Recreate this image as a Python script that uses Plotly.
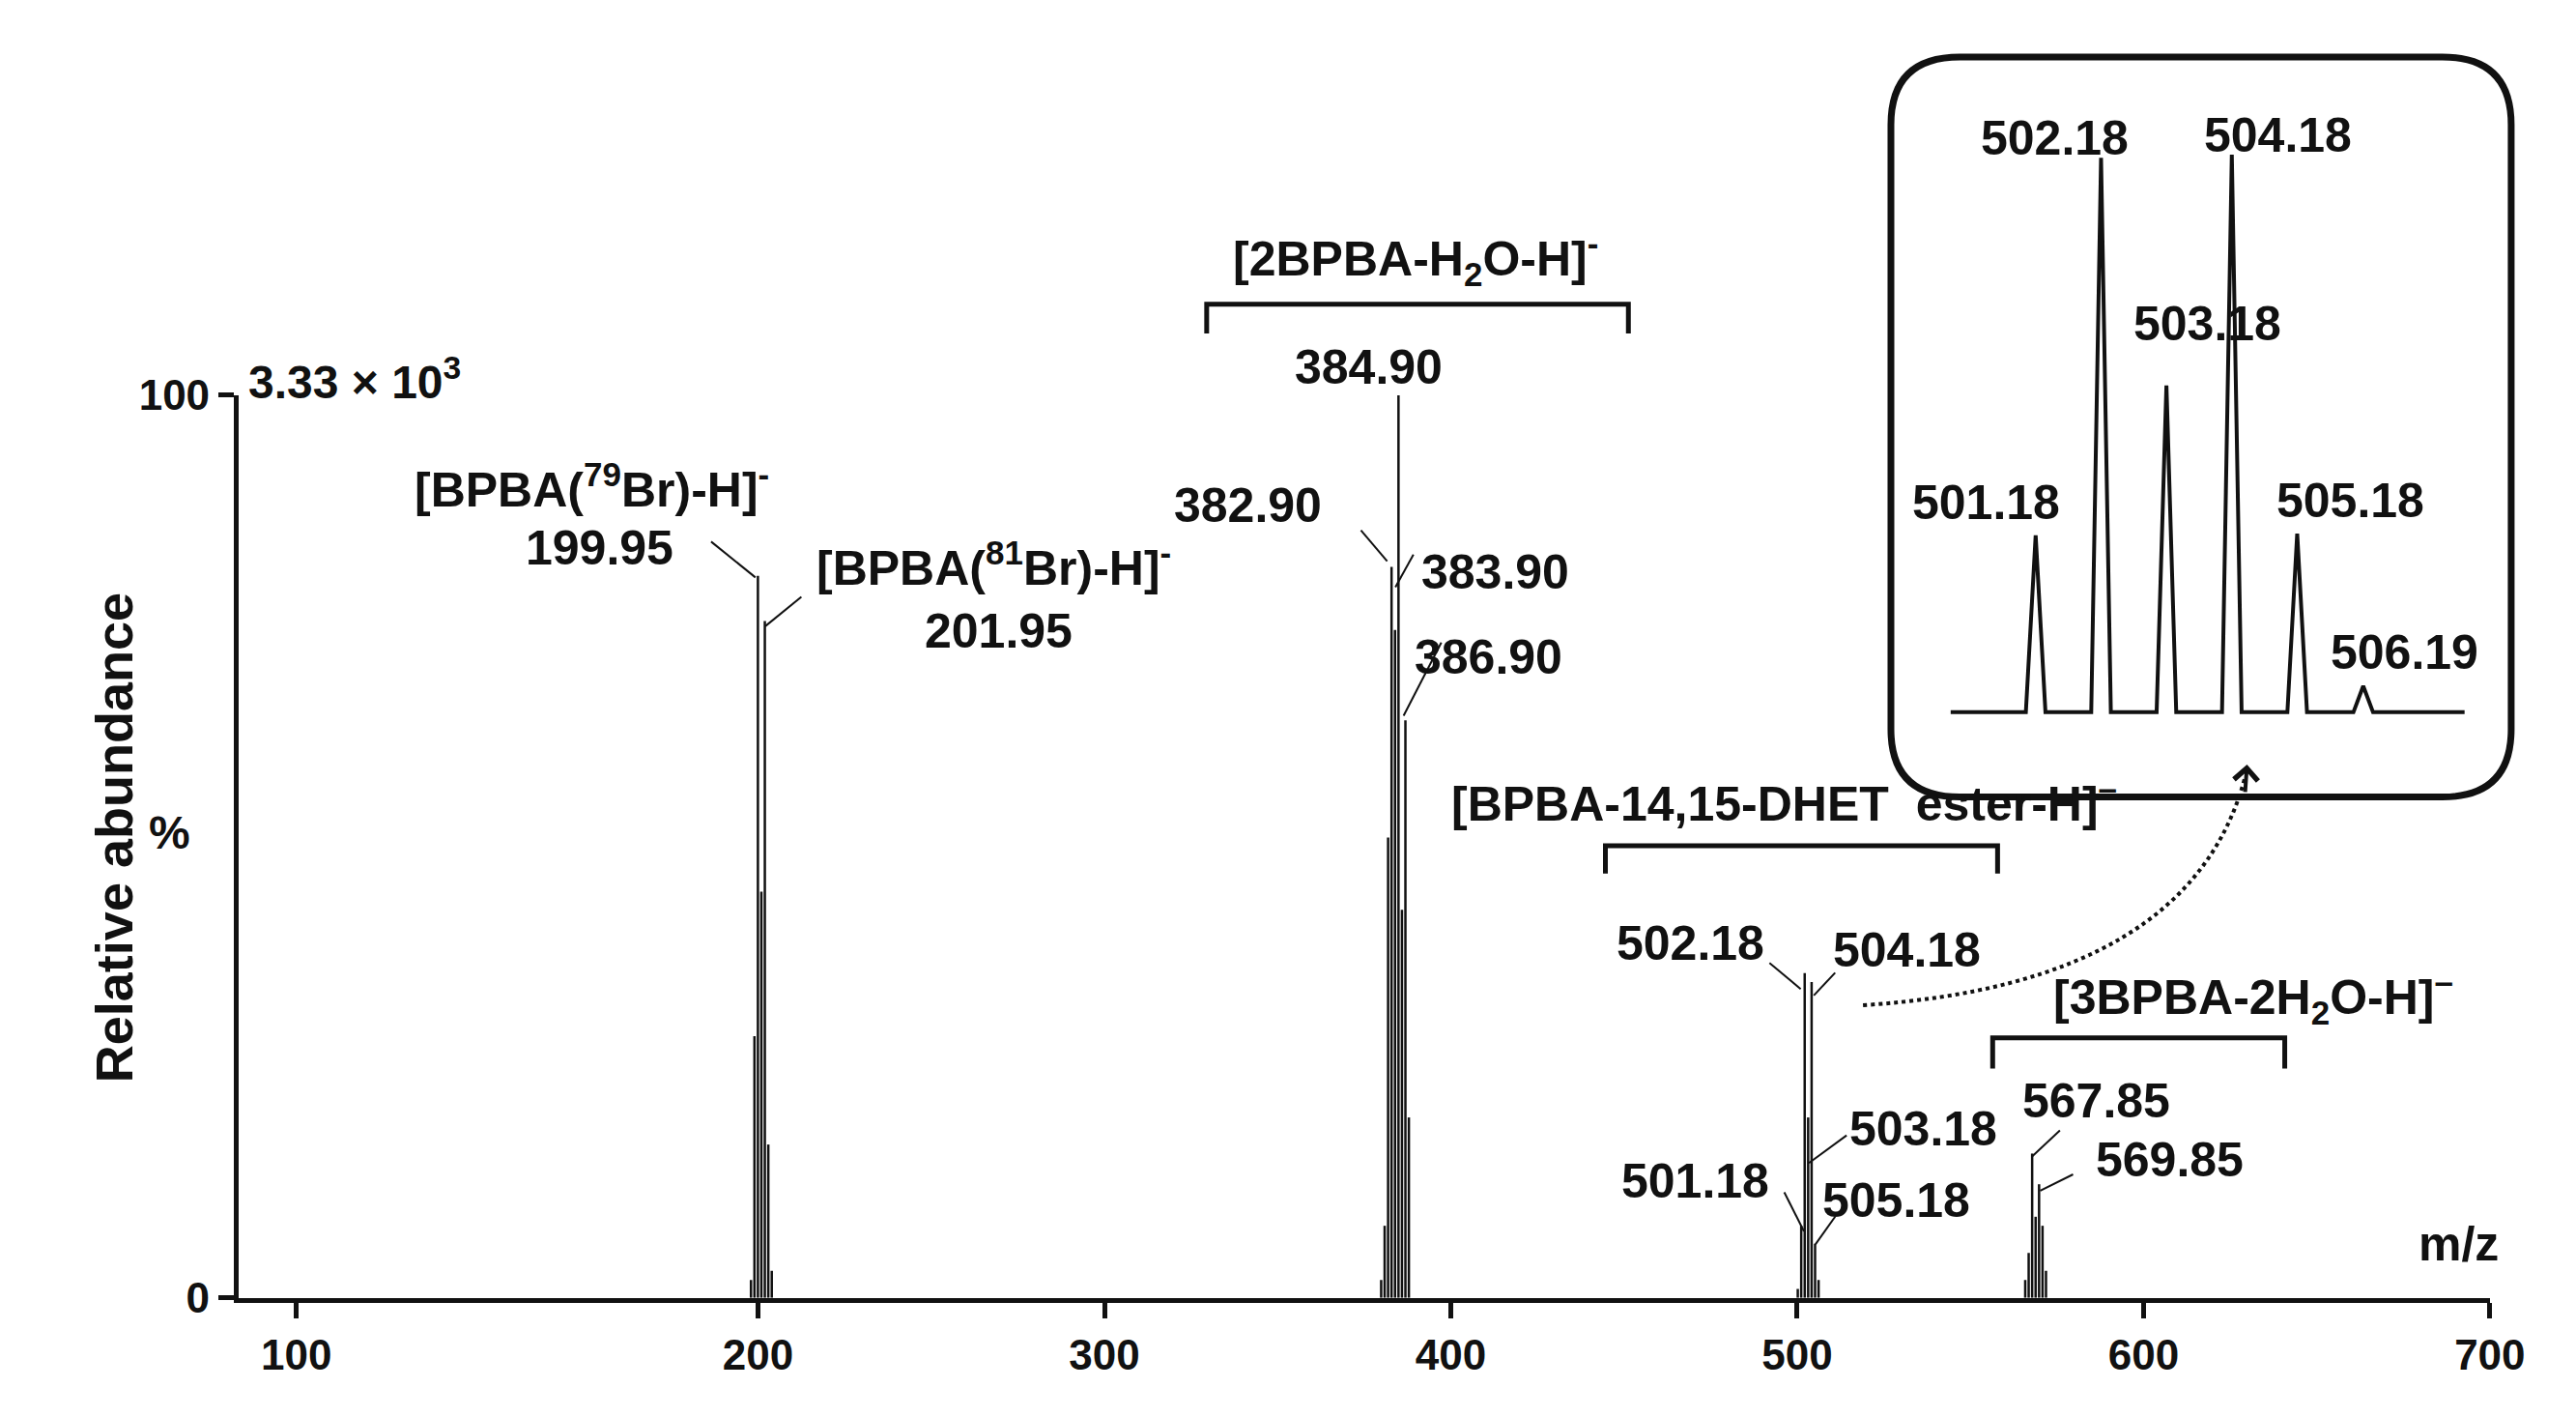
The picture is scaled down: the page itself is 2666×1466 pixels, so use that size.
import plotly.graph_objects as go

# ---------------- data ----------------
main_mz = [197.95, 198.95, 199.95, 200.95, 201.95, 202.95, 203.95,
           379.90, 380.90, 381.90, 382.90, 383.90, 384.90, 385.90, 386.90, 387.90,
           500.18, 501.18, 502.18, 503.18, 504.18, 505.18, 506.19,
           565.85, 566.85, 567.85, 568.85, 569.85, 570.85, 571.85]
main_int = [2, 29, 80, 45, 75, 17, 3,
            2, 8, 51, 81, 74, 100, 43, 64, 20,
            1, 8, 36, 20, 35, 6, 2,
            2, 5, 16, 9, 12.6, 8, 3]
inset_mz = [501.18, 502.18, 503.18, 504.18, 505.18, 506.19]
inset_int = [31.7, 99.4, 58.6, 100, 32, 4.7]
x_tickvals = [66.7, 200, 300, 400, 500, 600, 700]
x_ticktext = ["100", "200", "300", "400", "500", "600", "700"]

# ---------------- geometry helpers ----------------
W, H = 2666, 1466
L, R, T, B = 100, 20, 20, 121
SX, SY = 2666 / 1552, 1466 / 860
PW, PH = W - L - R, H - T - B
def px(d): return (d * SX - L) / PW
def py(d): return ((H - B) - d * SY) / PH

FONT = "Liberation Sans"
BLK = "#111111"

fig = go.Figure()
xs, ys = [], []
for m, h in zip(main_mz, main_int):
    xs += [m, m, None]; ys += [0, h, None]
fig.add_trace(go.Scatter(x=xs, y=ys, mode="lines", line=dict(color=BLK, width=2.5),
                         hoverinfo="skip", showlegend=False))
hw = 0.15
ix, iy = [inset_mz[0] - 1.3], [0]
for m, h in zip(inset_mz, inset_int):
    ix += [m - hw, m, m + hw]; iy += [0, h, 0]
ix.append(inset_mz[-1] + 1.55); iy.append(0)
fig.add_trace(go.Scatter(x=ix, y=iy, mode="lines", line=dict(color=BLK, width=4),
                         xaxis="x2", yaxis="y2", hoverinfo="skip", showlegend=False))

fig.update_layout(
    width=W, height=H, margin=dict(l=L, r=R, t=T, b=B),
    plot_bgcolor="white", paper_bgcolor="white",
    font=dict(family=FONT, size=46, color=BLK),
    xaxis=dict(domain=[px(140), px(1512)], range=[50, 700], showgrid=False, zeroline=False,
               showline=True, linecolor=BLK, linewidth=5, ticks="outside", ticklen=16,
               tickwidth=5, tickcolor=BLK, tickvals=x_tickvals, ticktext=x_ticktext,
               tickfont=dict(family=FONT, size=44, color=BLK, weight="bold")),
    yaxis=dict(domain=[py(783), py(228)], range=[0, 100], showgrid=False, zeroline=False,
               showline=True, linecolor=BLK, linewidth=5, ticks="outside", ticklen=16,
               tickwidth=5, tickcolor=BLK, tickvals=[0, 100],
               tickfont=dict(family=FONT, size=44, color=BLK, weight="bold")),
    xaxis2=dict(domain=[px(1183), px(1497)], range=[499.87, 507.75], visible=False, anchor="y2"),
    yaxis2=dict(domain=[py(428), py(80)], range=[-1.5, 100], visible=False, anchor="x2"),
)

def txt(t, x, y, size=50, xanchor="center"):
    fig.add_annotation(text=t, x=px(x), y=py(y), xref="paper", yref="paper",
                       showarrow=False, xanchor=xanchor, yanchor="middle",
                       font=dict(family=FONT, size=size, color=BLK, weight="bold"))

def seg(x0, y0, x1, y1, w=2, dash=None):
    fig.add_shape(type="line", xref="paper", yref="paper", x0=px(x0), y0=py(y0),
                  x1=px(x1), y1=py(y1), line=dict(color=BLK, width=w, dash=dash))

def bracket(x0, x1, y, yd):
    fig.add_shape(type="path", xref="paper", yref="paper",
                  path=f"M {px(x0)},{py(yd)} L {px(x0)},{py(y)} L {px(x1)},{py(y)} L {px(x1)},{py(yd)}",
                  line=dict(color=BLK, width=5))

txt("3.33 × 10<sup>3</sup>", 145, 218, 48, "left")
txt("[BPBA(<sup>79</sup>Br)-H]<sup>-</sup>", 355, 284)
txt("199.95", 360, 322)
txt("[BPBA(<sup>81</sup>Br)-H]<sup>-</sup>", 600, 332)
txt("201.95", 603, 373)
txt("[2BPBA-H<sub>2</sub>O-H]<sup>-</sup>", 857, 144)
bracket(730, 987, 172, 190)
txt("384.90", 829, 211)
txt("382.90", 755, 296)
txt("383.90", 906, 337)
txt("386.90", 902, 389)
txt("[BPBA-14,15-DHET  ester-H]<sup>–</sup>", 1082, 477)
bracket(973, 1212, 505, 522)
txt("502.18", 1025, 565)
txt("504.18", 1157, 569)
txt("503.18", 1167, 679)
txt("501.18", 1028, 711)
txt("505.18", 1150, 723)
txt("[3BPBA-2H<sub>2</sub>O-H]<sup>–</sup>", 1368, 598)
bracket(1209, 1387, 623, 642)
txt("567.85", 1272, 662)
txt("569.85", 1317, 698)
txt("m/z", 1493, 750)
fig.add_annotation(text="Relative abundance", x=px(45), y=py(500), xref="paper", yref="paper",
                   showarrow=False, textangle=-90,
                   font=dict(family=FONT, size=54, color=BLK, weight="bold"))
txt("%", 98, 497, 48)

for a in [(428, 318, 455, 340), (483, 352, 461, 370), (824, 311, 840, 330),
          (856, 326, 845, 346), (873, 380, 850, 425), (1073, 577, 1092, 593),
          (1113, 583, 1100, 597), (1120, 683, 1097, 700), (1082, 718, 1094, 742),
          (1113, 733, 1101, 750), (1250, 680, 1233, 696), (1258, 707, 1238, 717)]:
    seg(*a)

x0, x1, y0, y1, r = 1147, 1525, 20, 475, 42
rx, ry = r, r * SY / SX
fig.add_shape(type="path", xref="paper", yref="paper", line=dict(color=BLK, width=7),
              path=(f"M {px(x0+rx)},{py(y0)} L {px(x1-rx)},{py(y0)} Q {px(x1)},{py(y0)} {px(x1)},{py(y0+ry)} "
                    f"L {px(x1)},{py(y1-ry)} Q {px(x1)},{py(y1)} {px(x1-rx)},{py(y1)} "
                    f"L {px(x0+rx)},{py(y1)} Q {px(x0)},{py(y1)} {px(x0)},{py(y1-ry)} "
                    f"L {px(x0)},{py(y0+ry)} Q {px(x0)},{py(y0)} {px(x0+rx)},{py(y0)} Z"))
txt("502.18", 1247, 70)
txt("504.18", 1383, 68)
txt("503.18", 1340, 184)
txt("501.18", 1205, 294)
txt("505.18", 1427, 293)
txt("506.19", 1460, 386)

fig.add_shape(type="path", xref="paper", yref="paper", line=dict(color=BLK, width=4, dash="dot"),
              path=f"M {px(1130)},{py(603)} Q {px(1330)},{py(590)} {px(1363)},{py(462)}")
fig.add_annotation(x=px(1364), y=py(455), ax=-2, ay=30, xref="paper", yref="paper",
                   axref="pixel", ayref="pixel", text="", showarrow=True, arrowhead=4,
                   arrowsize=1.2, arrowwidth=4, arrowcolor=BLK)

fig.write_html("out.html")
